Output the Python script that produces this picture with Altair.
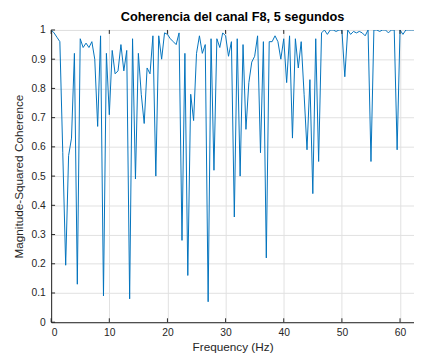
import altair as alt
import pandas as pd

TITLE = "Coherencia del canal F8, 5 segundos"
X_TITLE = "Frequency (Hz)"
Y_TITLE = "Magnitude-Squared Coherence"

# frequency bins (0.5 Hz resolution)
freq = [i * 0.5 for i in range(129)]
coherence = [
    1.00, 0.99, 0.975, 0.96, 0.58, 0.195, 0.57, 0.63, 0.92, 0.13,
    0.97, 0.94, 0.955, 0.94, 0.96, 0.90, 0.67, 0.98, 0.09, 0.92,
    0.71, 0.93, 0.85, 0.86, 0.95, 0.86, 0.93, 0.08, 0.97, 0.49,
    0.92, 0.78, 0.68, 0.87, 0.85, 0.98, 0.50, 0.98, 0.90, 0.99,
    0.985, 0.97, 0.96, 0.95, 0.99, 0.28, 0.92, 0.16, 0.78, 0.69,
    0.92, 0.98, 0.92, 0.95, 0.07, 0.97, 0.52, 0.97, 0.94, 0.99,
    0.98, 0.91, 0.96, 0.36, 0.97, 0.50, 0.95, 0.66, 0.82, 0.89,
    0.91, 0.98, 0.58, 0.96, 0.22, 0.96, 0.96, 0.98, 0.96, 0.90,
    0.97, 0.82, 0.98, 0.63, 0.97, 0.87, 0.96, 0.78, 0.59, 0.83,
    0.44, 0.97, 0.55, 0.99, 1.0, 0.985, 1.0, 1.0, 0.995, 1.0,
    1.0, 0.84, 1.0, 0.985, 0.995, 0.99, 0.995, 0.99, 0.98, 1.0,
    0.55, 1.0, 1.0, 0.995, 1.0, 1.0, 0.99, 1.0, 1.0, 0.59,
    1.0, 0.985, 1.0, 1.0, 1.0, 1.0, 1.0, 1.0, 1.0,
]
x_ticks = [0, 10, 20, 30, 40, 50, 60]
y_ticks = [0, 0.1, 0.2, 0.3, 0.4, 0.5, 0.6, 0.7, 0.8, 0.9, 1.0]

df = pd.DataFrame({"f": freq, "c": coherence})
xt = pd.DataFrame({"f": x_ticks})
yt = pd.DataFrame({"c": y_ticks})

W, H = 370, 298
FONT = "Liberation Sans"
DARK = "#262626"

xscale = alt.Scale(domain=[0, 62.4], nice=False, zero=False)
yscale = alt.Scale(domain=[0, 1], nice=False)

common = dict(grid=True, tickSize=0, labelFont=FONT, labelFontSize=10.5,
              labelColor=DARK, titleFont=FONT, titleFontSize=12,
              titleFontWeight="normal", titleColor=DARK, domainColor=DARK,
              domainWidth=1, gridColor="#e0e0e0", gridWidth=1, labelOverlap=False)
xaxis = alt.Axis(values=x_ticks, title=X_TITLE, labelPadding=6,
                 titlePadding=3, format="d", **common)
yaxis = alt.Axis(values=y_ticks, title=Y_TITLE, labelPadding=6,
                 titlePadding=6, format=".1~f", **common)

line = alt.Chart(df).mark_line(color="#0072BD", strokeWidth=1, clip=True).encode(
    x=alt.X("f:Q", scale=xscale, axis=xaxis),
    y=alt.Y("c:Q", scale=yscale, axis=yaxis),
)

xtick_b = alt.Chart(xt).mark_rule(color=DARK, strokeWidth=1).encode(
    x=alt.X("f:Q", scale=xscale, axis=xaxis), y=alt.value(H), y2=alt.value(H - 4))
xtick_t = alt.Chart(xt).mark_rule(color=DARK, strokeWidth=1).encode(
    x=alt.X("f:Q", scale=xscale, axis=xaxis), y=alt.value(0), y2=alt.value(4))
ytick_l = alt.Chart(yt).mark_rule(color=DARK, strokeWidth=1).encode(
    y=alt.Y("c:Q", scale=yscale, axis=yaxis), x=alt.value(0), x2=alt.value(4))

chart = alt.layer(line, xtick_b, xtick_t, ytick_l).properties(
    width=W, height=H,
    title=alt.TitleParams(TITLE, fontSize=13, fontWeight="bold", font=FONT,
                          color="#000000", anchor="middle", offset=1),
    autosize=alt.AutoSizeParams(type="none"),
    padding={"left": 44, "top": 19, "right": 0, "bottom": 29},
).configure_view(stroke=DARK, strokeWidth=1).configure(background="white")

chart.save("out.html", embed_options={"renderer": "svg", "actions": False})
